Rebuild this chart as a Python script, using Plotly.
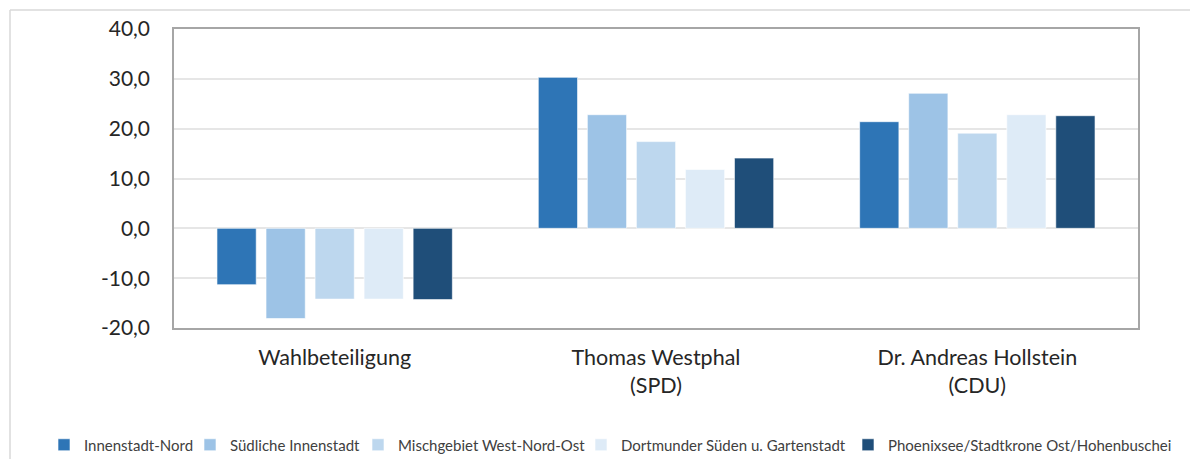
import plotly.graph_objects as go

categories = ["Wahlbeteiligung", "Thomas Westphal<br>(SPD)", "Dr. Andreas Hollstein<br>(CDU)"]
series_names = [
    "Innenstadt-Nord",
    "Südliche Innenstadt",
    "Mischgebiet West-Nord-Ost",
    "Dortmunder Süden u. Gartenstadt",
    "Phoenixsee/Stadtkrone Ost/Hohenbuschei",
]
innenstadt_nord = [-11.3, 30.3, 21.4]
suedliche_innenstadt = [-18.1, 22.8, 27.1]
mischgebiet = [-14.2, 17.4, 19.1]
dortmunder_sueden = [-14.2, 11.8, 22.8]
phoenixsee = [-14.3, 14.1, 22.6]
series_values = [innenstadt_nord, suedliche_innenstadt, mischgebiet, dortmunder_sueden, phoenixsee]
colors = ["#2E75B6", "#9DC3E6", "#BDD7EE", "#DEEBF7", "#1F4E79"]
tick_vals = [-20, -10, 0, 10, 20, 30, 40]
tick_text = ["-20,0", "-10,0", "0,0", "10,0", "20,0", "30,0", "40,0"]

FONT = "Lato"
W, H = 1190, 451
L, T, R, B = 166, 21, 60, 131
PW, PH = W - L - R, H - T - B

# legend text start positions (figure pixels)
legend_text_x = [76, 222, 390, 613, 880]
INDENT = -12
TEXT_GAP = 40 + INDENT

fig = go.Figure()
legend_ids = ["legend", "legend2", "legend3", "legend4", "legend5"]
for name, vals, col, lid in zip(series_names, series_values, colors, legend_ids):
    fig.add_trace(go.Bar(
        x=categories, y=vals, name=name, legend=lid,
        marker=dict(color=col, line=dict(color="rgba(255,255,255,0.6)", width=1)),
    ))

legend_y = -(437 - (H - B)) / PH
legend_layout = {}
for lid, tx in zip(legend_ids, legend_text_x):
    legend_layout[lid] = dict(
        orientation="h", x=(tx - TEXT_GAP - L) / PW, xanchor="left",
        y=legend_y, yanchor="middle",
        font=dict(size=15, family=FONT, color="#404040"),
        itemwidth=30, indentation=INDENT, bgcolor="rgba(0,0,0,0)",
    )

fig.update_layout(
    width=W, height=H,
    barmode="group", bargap=0.237, bargroupgap=0.2,
    paper_bgcolor="white", plot_bgcolor="white",
    margin=dict(l=L, r=R, t=T, b=B, autoexpand=False),
    font=dict(family=FONT, color="#333333"),
    showlegend=True,
    yaxis=dict(
        range=[-20, 40], tickvals=tick_vals, ticktext=tick_text,
        showgrid=True, gridcolor="#e6e6e6", gridwidth=1.5,
        zeroline=False,
        showline=True, linecolor="#a6a6a6", linewidth=1.5, mirror=True,
        tickfont=dict(size=21, family=FONT, color="#262626"),
        ticks="", ticklabelstandoff=18,
    ),
    xaxis=dict(
        showline=True, linecolor="#a6a6a6", linewidth=1.5, mirror=True,
        tickfont=dict(size=21.5, family=FONT, color="#262626"),
        ticks="", ticklabelstandoff=9,
    ),
    shapes=[
        dict(type="line", xref="paper", yref="paper",
             x0=(2 - L) / PW, x1=(W + 20 - L) / PW,
             y0=1 + (T - 2) / PH, y1=1 + (T - 2) / PH,
             line=dict(color="#d9d9d9", width=1.5)),
        dict(type="line", xref="paper", yref="paper",
             x0=(2 - L) / PW, x1=(2 - L) / PW,
             y0=1 + (T - 2) / PH, y1=-(B + 20) / PH,
             line=dict(color="#d9d9d9", width=1.5)),
    ],
    **legend_layout,
)

fig.write_html("out.html")
